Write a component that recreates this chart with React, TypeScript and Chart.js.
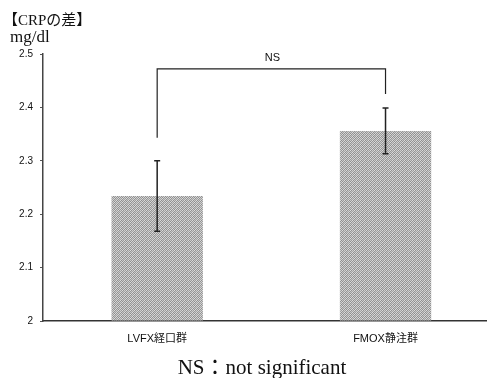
import React, { useEffect, useRef } from 'react';
import { Chart, registerables } from 'chart.js';

Chart.register(...registerables);

const categories = ['LVFX経口群', 'FMOX静注群'];
const means = [2.234, 2.356];
const errors = [0.066, 0.043];
const yMin = 2;
const yMax = 2.5;
const yStep = 0.1;
const bracketTop = 2.472;
const bracketLeftEnd = 2.343;
const bracketRightEnd = 2.425;
const bracketLabel = 'NS';

function makePattern(): CanvasPattern | string {
  const c = document.createElement('canvas');
  c.width = 4;
  c.height = 4;
  const g = c.getContext('2d');
  if (!g) return '#aaa';
  const cols = [
    ['#dadada', '#8e8e8e', '#c8c8c8', '#9c9c9c'],
    ['#949494', '#d2d2d2', '#8e8e8e', '#d6d6d6'],
    ['#cccccc', '#9a9a9a', '#dcdcdc', '#929292'],
    ['#a4a4a4', '#d2d2d2', '#969696', '#c4c4c4'],
  ];
  for (let y = 0; y < 4; y++) for (let x = 0; x < 4; x++) {
    g.fillStyle = cols[y][x];
    g.fillRect(x, y, 1, 1);
  }
  return g.createPattern(c, 'repeat') || '#aaa';
}

const extrasPlugin = {
  id: 'extras',
  afterDatasetsDraw(chart: any) {
    const ctx = chart.ctx;
    const xs = chart.scales.x;
    const ys = chart.scales.y;
    ctx.save();
    ctx.strokeStyle = '#222';
    ctx.lineWidth = 1.5;
    means.forEach((m, i) => {
      const x = xs.getPixelForValue(i);
      const t = ys.getPixelForValue(m + errors[i]);
      const b = ys.getPixelForValue(m - errors[i]);
      ctx.beginPath();
      ctx.moveTo(x, t);
      ctx.lineTo(x, b);
      ctx.moveTo(x - 3, t);
      ctx.lineTo(x + 3, t);
      ctx.moveTo(x - 3, b);
      ctx.lineTo(x + 3, b);
      ctx.stroke();
    });
    // bracket
    const xl = xs.getPixelForValue(0);
    const xr = xs.getPixelForValue(1);
    const yt = ys.getPixelForValue(bracketTop);
    ctx.lineWidth = 1.2;
    ctx.beginPath();
    ctx.moveTo(xl, ys.getPixelForValue(bracketLeftEnd));
    ctx.lineTo(xl, yt);
    ctx.lineTo(xr, yt);
    ctx.lineTo(xr, ys.getPixelForValue(bracketRightEnd));
    ctx.stroke();
    ctx.fillStyle = '#111';
    ctx.font = '11px "Liberation Sans", Arial, sans-serif';
    ctx.textAlign = 'center';
    ctx.textBaseline = 'middle';
    ctx.fillText(bracketLabel, (xl + xr) / 2 + 1, yt - 11);
    ctx.restore();
  },
};

export default function App() {
  const ref = useRef<HTMLCanvasElement>(null);
  useEffect(() => {
    if (!ref.current) return;
    const chart = new Chart(ref.current, {
      type: 'bar',
      data: {
        datasets: [
          {
            data: means.map((v, i) => ({ x: i, y: v })),
            backgroundColor: makePattern() as any,
            borderWidth: 0,
            base: yMin,
            barPercentage: 0.4,
            categoryPercentage: 1,
          } as any,
        ],
      },
      options: {
        animation: false,
        responsive: false,
        devicePixelRatio: 1,
        layout: { padding: { top: 54, right: 7, left: 0, bottom: 0 } },
        plugins: { legend: { display: false }, tooltip: { enabled: false } },
        scales: {
          x: {
            type: 'linear',
            offset: false,
            min: -0.5,
            max: 1.44,
            afterBuildTicks: (s: any) => {
              s.ticks = categories.map((_, i) => ({ value: i }));
            },
            afterFit: (s: any) => {
              s.height = 57;
            },
            grid: { display: false },
            border: { display: true, color: '#333', width: 1.5 },
            ticks: {
              autoSkip: false,
              maxRotation: 0,
              padding: 3,
              color: '#111',
              font: { family: '"Liberation Sans", Arial, "Noto Sans CJK JP", sans-serif', size: 11 },
              callback: (v: any) => categories[v] ?? '',
            },
          },
          y: {
            min: yMin,
            max: yMax,
            afterFit: (s: any) => {
              s.width = 43;
            },
            grid: { drawOnChartArea: false, drawTicks: true, tickLength: 3, color: '#555' },
            border: { display: true, color: '#444', width: 1.5 },
            ticks: {
              stepSize: yStep,
              padding: 7,
              color: '#111',
              font: { family: '"Liberation Sans", Arial, sans-serif', size: 10 },
              callback: (v: any) => String(Math.round(Number(v) * 10) / 10),
            },
          },
        },
      },
      plugins: [extrasPlugin],
    });
    return () => chart.destroy();
  }, []);

  const serif = '"Liberation Serif", "DejaVu Serif", "Noto Sans CJK JP", serif';
  return (
    <div style={{ position: 'fixed', left: 0, top: 0, width: 493, height: 378, background: '#fff', overflow: 'hidden' }}>
      <canvas ref={ref} width={493} height={378} style={{ position: 'absolute', left: 0, top: 0, width: 493, height: 378 }} />
      <div style={{ position: 'absolute', left: 3, top: 11, fontFamily: serif, fontSize: 15, lineHeight: '18px', color: '#111' }}>
        【CRPの差】
      </div>
      <div style={{ position: 'absolute', left: 10, top: 28, fontFamily: serif, fontSize: 17, lineHeight: '18px', color: '#111' }}>
        mg/dl
      </div>
      <div style={{ position: 'absolute', left: 0, width: 524, top: 356, textAlign: 'center', fontFamily: serif, fontSize: 21, lineHeight: '22px', color: '#111' }}>
        NS：not significant
      </div>
    </div>
  );
}
